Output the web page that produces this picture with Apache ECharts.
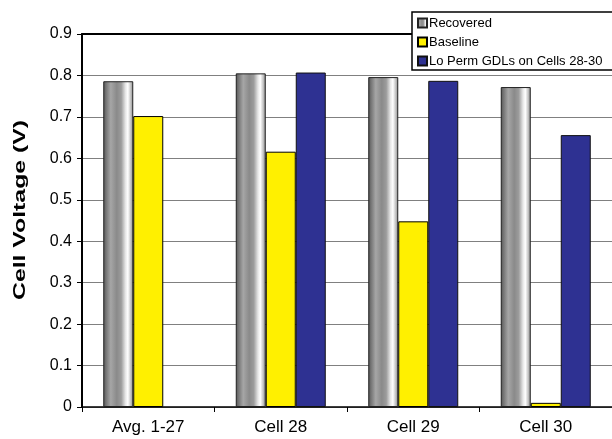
<!DOCTYPE html>
<html>
<head>
<meta charset="utf-8">
<script src="https://cdn.jsdelivr.net/npm/echarts@6/dist/echarts.min.js"></script>
<style>html,body{margin:0;padding:0;background:#fff}#c{width:612px;height:439px}</style>
</head>
<body>
<div id="c"></div>
<script>
var categories = ['Avg. 1-27', 'Cell 28', 'Cell 29', 'Cell 30'];
var recovered = [0.786, 0.805, 0.796, 0.772];
var baseline = [0.702, 0.616, 0.448, 0.010];
var loPerm = [null, 0.807, 0.787, 0.656];
var seriesNames = ['Recovered', 'Baseline', 'Lo Perm GDLs on Cells 28-30'];
var yTicks = { min: 0, max: 0.9, interval: 0.1 };
var yTitle = 'Cell Voltage (V)';

var FONT = 'Liberation Sans, Arial, sans-serif';
var grayGrad = new echarts.graphic.LinearGradient(0, 0, 1, 0, [
  { offset: 0, color: '#555555' },
  { offset: 0.1, color: '#777777' },
  { offset: 0.25, color: '#a6a6a6' },
  { offset: 0.45, color: '#8a8a8a' },
  { offset: 0.6, color: '#9c9c9c' },
  { offset: 0.74, color: '#e6e6e6' },
  { offset: 0.82, color: '#ffffff' },
  { offset: 0.92, color: '#c0c0c0' },
  { offset: 1, color: '#888888' }
]);

var chart = echarts.init(document.getElementById('c'), null, { renderer: 'canvas' });
chart.setOption({
  animation: false,
  backgroundColor: '#fff',
  textStyle: { fontFamily: FONT },
  grid: { left: 82, top: 34, bottom: 32, width: 534, containLabel: false },
  legend: {
    orient: 'vertical',
    left: 412,
    top: 12,
    data: seriesNames,
    backgroundColor: '#fff',
    borderColor: '#000',
    borderWidth: 1.5,
    borderRadius: 0,
    padding: [4, 40, 2, 5],
    itemWidth: 9,
    itemHeight: 9,
    itemGap: 5,
    icon: 'rect',
    textStyle: { fontFamily: FONT, fontSize: 13, color: '#000', lineHeight: 14, padding: [0, 0, 0, -3] }
  },
  xAxis: [{
    type: 'category',
    data: categories,
    axisLine: { lineStyle: { color: '#000', width: 1.5 } },
    axisTick: { show: true, length: 5, lineStyle: { color: '#000' } },
    axisLabel: { fontFamily: FONT, fontSize: 17, color: '#000', margin: 12 },
    splitLine: { show: false }
  }, {
    type: 'category',
    position: 'top',
    data: categories,
    axisLine: { show: true, lineStyle: { color: '#000', width: 2 } },
    axisTick: { show: false },
    axisLabel: { show: false },
    splitLine: { show: false }
  }],
  yAxis: {
    type: 'value',
    min: yTicks.min,
    max: yTicks.max,
    interval: yTicks.interval,
    axisLine: { show: true, lineStyle: { color: '#000', width: 2 } },
    axisTick: { show: true, length: 5, lineStyle: { color: '#000' } },
    axisLabel: { fontFamily: FONT, fontSize: 16, color: '#000', margin: 10 },
    splitLine: { show: true, lineStyle: { color: '#808080', width: 1 } }
  },
  graphic: [{
    type: 'text',
    x: 21,
    y: 210,
    rotation: Math.PI / 2,
    scaleX: 1.55,
    style: {
      text: yTitle,
      font: 'bold 16px ' + FONT,
      fill: '#000',
      align: 'center',
      verticalAlign: 'middle'
    }
  }],
  series: [{
    name: seriesNames[0],
    type: 'bar',
    data: recovered,
    barWidth: 30,
    barGap: '0%',
    itemStyle: { color: grayGrad, borderColor: '#222', borderWidth: 1 }
  }, {
    name: seriesNames[1],
    type: 'bar',
    data: baseline,
    barWidth: 30,
    barGap: '0%',
    itemStyle: { color: '#FFF000', borderColor: '#000', borderWidth: 1 }
  }, {
    name: seriesNames[2],
    type: 'bar',
    data: loPerm,
    barWidth: 30,
    barGap: '0%',
    itemStyle: { color: '#2E3192', borderColor: '#111', borderWidth: 1 }
  }]
});
</script>
</body>
</html>
